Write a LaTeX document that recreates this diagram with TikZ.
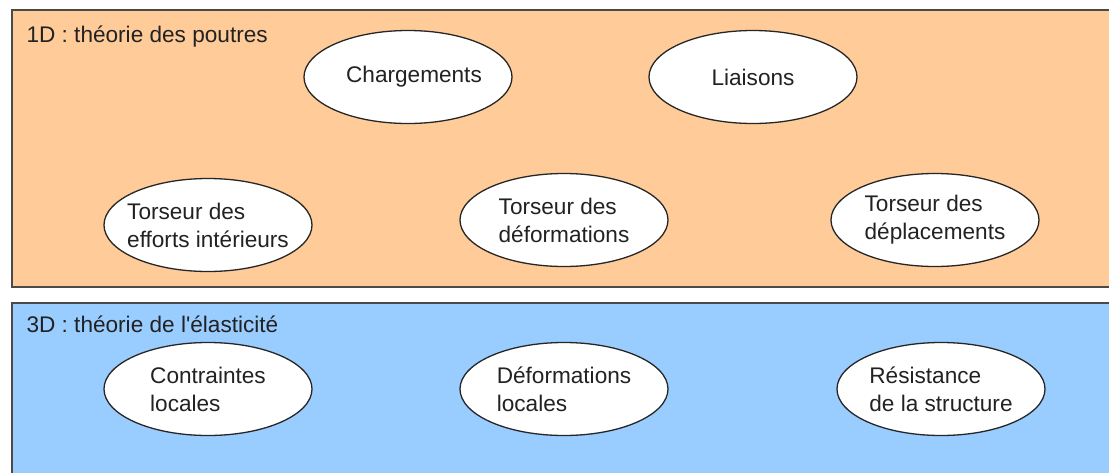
\documentclass[tikz,border=0pt]{standalone}
\usepackage{fontspec}
\setmainfont{Liberation Sans}
\usetikzlibrary{shapes.geometric}
\definecolor{poutre}{HTML}{FFCC99}
\definecolor{elast}{HTML}{99CCFF}
\definecolor{cadre}{HTML}{4A4A4A}
\definecolor{encre}{HTML}{222222}

\begin{document}
\begin{tikzpicture}[x=1pt, y=-1pt, font=\fontsize{22.6}{28}\selectfont, text=encre,
  bulle/.style={draw=black!85, line width=1.3pt, fill=white, ellipse, minimum width=208pt, minimum height=93pt, inner xsep=-12pt, inner ysep=0pt, align=left}]
	\useasboundingbox (0,0) rectangle (1109,472);
	\draw[color=cadre,line width=1.8pt,fill=poutre] (12,10) rectangle (1120,287);
	\node[anchor=west] (titre1D) at (23,37) {1D : théorie des poutres};
	\node[bulle] (charg) at (408,77) {\hspace*{12pt}Chargements};
	\node[bulle] (liais) at (753,77) {Liaisons};
	\node[bulle] (effort) at (208,225) {Torseur des\\efforts intérieurs};
	\node[bulle] (deform) at (564,220) {Torseur des\\déformations};
	\node[bulle] (deplac) at (935,220) {Torseur des\\déplacements};
	\draw[color=cadre,line width=1.8pt,fill=elast] (12,303) rectangle (1120,480);
	\node[anchor=west] (titre3D) at (23,324) {3D : théorie de l\textquotesingle élasticité};
	\node[bulle] (contr) at (208,389) {Contraintes\\locales};
	\node[bulle] (deflocal) at (564,389) {Déformations\\locales};
	\node[bulle] (resist) at (941,389) {Résistance\\de la structure};
\end{tikzpicture}
\end{document}
